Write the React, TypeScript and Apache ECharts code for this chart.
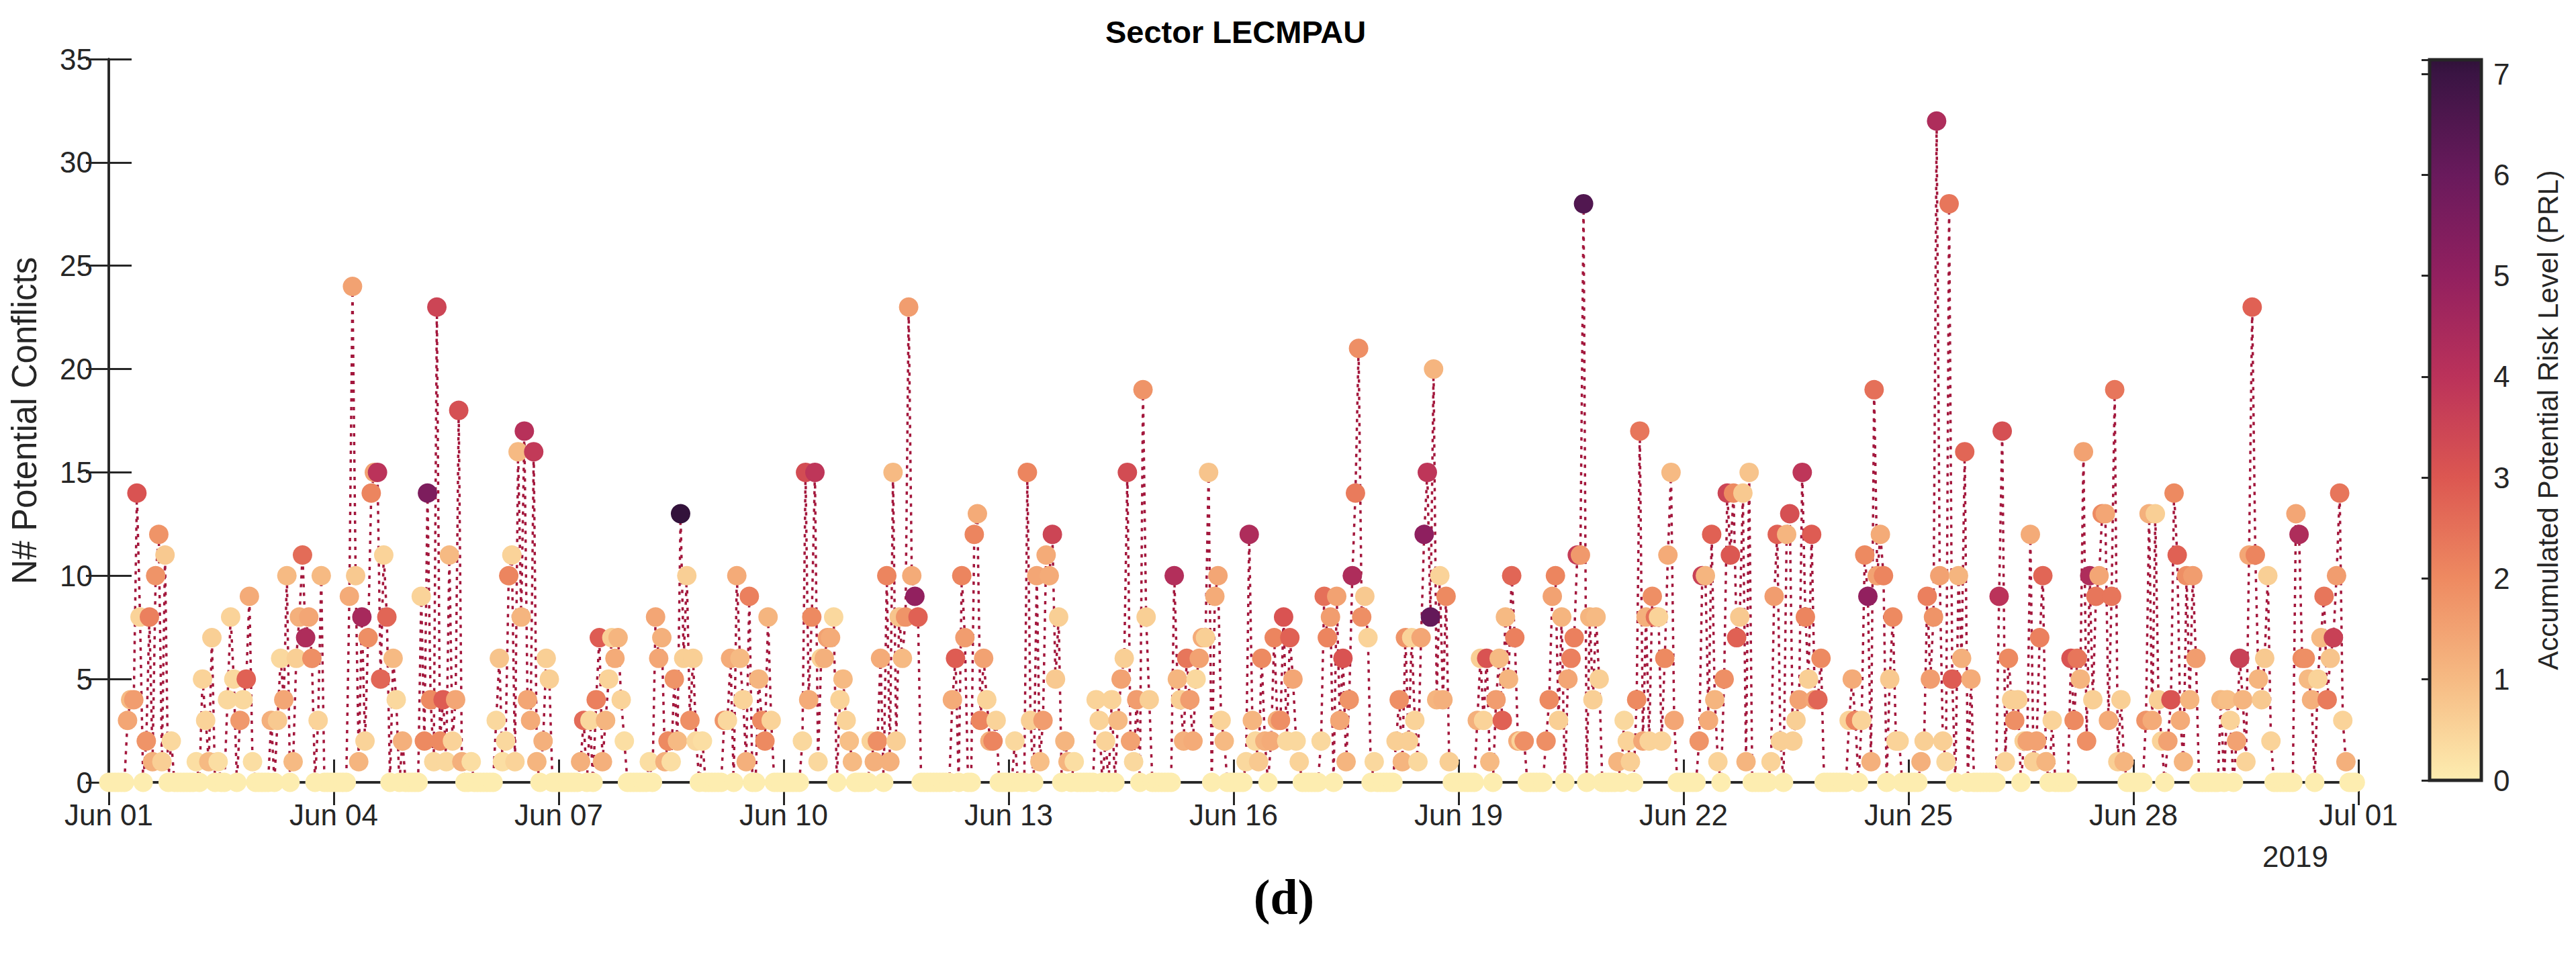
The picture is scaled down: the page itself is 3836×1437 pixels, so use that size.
import React, { useEffect, useRef } from "react";
import * as echarts from "echarts";

// ---------- DATA (hour since Jun 01 00:00, potential conflicts, accumulated PRL) ----------
const week1: number[][] = [
  [6,3,1.4],[7,4,1.0],[8,4,1.6],[9,14,3.1],[10,8,0.5],[12,2,1.8],[13,8,2.2],[14,1,1.2],[15,10,1.8],[16,12,1.8],[17,1,0.6],[18,11,0.7],[20,2,0.4],
  [28,1,0.3],[30,5,0.5],[31,3,0.5],[32,1,1.0],[33,7,0.6],[35,1,0.3],[38,4,0.4],[39,8,0.5],[40,5,0.4],[42,3,1.7],[43,4,0.4],[44,5,2.8],[45,9,1.3],[46,1,0.3],
  [52,3,1.2],[54,3,0.7],[55,6,0.4],[56,4,1.4],[57,10,1.0],[59,1,1.0],[60,6,0.6],[61,8,1.2],[62,11,2.6],[63,7,4.3],[64,8,1.4],[65,6,1.9],[67,3,0.5],[68,10,1.0],
  [77,9,1.3],[78,24,1.5],[79,10,0.7],[80,1,1.1],[81,8,4.5],[82,2,0.5],[83,7,1.9],[84,14,2.1],[85,15,1.5],[86,15,4.0],[87,5,2.7],[88,11,0.5],[89,8,2.7],[91,6,1.0],[92,4,0.4],[94,2,1.2],
  [100,9,0.5],[101,2,2.0],[102,14,5.5],[103,4,2.0],[104,1,0.4],[105,23,3.5],[106,2,2.0],[107,4,2.9],[108,1,0.4],[109,11,1.0],[110,2,0.5],[111,4,1.4],[112,18,3.2],[113,1,1.2],[116,1,0.3],
  [124,3,0.4],[125,6,0.8],[126,1,0.3],[127,2,0.4],[128,10,2.1],[129,11,0.5],[130,1,0.5],[131,16,1.0],[132,8,1.1],[133,17,4.1],[134,4,1.4],[135,3,1.3],[136,16,3.8],[137,1,1.1],[139,2,1.2],[140,6,0.6],[141,5,0.6],
  [151,1,1.2],[152,3,2.6],[154,3,0.4],[156,4,2.2],[157,7,2.9],[158,1,1.2],[159,3,1.1],[160,5,0.5],[161,7,0.6],[162,6,1.3],[163,7,1.1],[164,4,0.5],[165,2,0.3],
];
const week2: number[][] = [
  [173,1,0.3],[175,8,1.4],[176,6,1.4],[177,7,1.2],[178,1,1.2],[179,2,2.0],[180,1,0.3],[181,5,1.8],[182,2,1.0],[183,13,7.1],[184,6,0.6],[185,10,0.6],[186,3,1.9],[187,6,0.6],[188,2,0.4],[190,2,0.3],
  [197,3,1.8],[198,3,0.4],[199,6,1.3],[201,10,1.3],[202,6,1.0],[203,4,0.5],[204,1,1.2],[205,9,2.2],[208,5,1.1],[209,3,2.0],[210,2,2.0],[211,8,1.1],[212,3,0.5],
  [222,2,0.4],[223,15,3.3],[224,4,1.3],[225,8,2.0],[226,15,3.9],[227,1,0.4],[228,6,0.5],[229,6,1.2],[230,7,1.5],[231,7,1.3],[232,8,0.4],[234,4,0.5],[235,5,1.0],[236,3,0.5],[237,2,0.9],[238,1,1.0],
  [244,2,0.5],[245,1,1.2],[246,2,1.9],[247,6,1.3],[249,10,2.1],[250,1,1.2],[251,15,1.0],[252,2,0.6],[253,8,0.8],[254,6,1.0],[255,8,1.8],[256,23,1.6],[257,10,1.3],[258,9,5.0],[259,8,2.8],
  [270,4,1.3],[271,6,2.9],[273,10,2.1],[274,7,1.6],[277,12,2.1],[278,13,1.3],[279,3,2.1],[280,6,1.5],[281,4,0.5],[282,2,1.2],[283,2,2.1],[284,3,0.5],[290,2,0.4],
  [294,15,2.1],[295,3,0.6],[297,10,1.4],[298,1,0.9],[299,3,1.6],[300,11,1.3],[301,10,1.3],[302,12,3.5],[303,5,0.7],[304,8,0.6],[306,2,1.1],[307,1,1.1],[309,1,0.3],
  [316,4,0.5],[317,3,0.5],[319,2,0.5],[321,4,0.5],[323,3,1.0],[324,5,1.5],[325,6,0.6],[326,15,3.3],[327,2,1.5],[328,1,0.4],[329,4,1.6],[331,19,1.8],[332,8,0.6],[333,4,0.6],
];
const week3: number[][] = [
  [341,10,4.2],[342,5,1.1],[343,4,0.6],[344,2,1.2],[345,6,2.4],[346,4,1.6],[347,2,1.3],[348,5,0.4],[349,6,1.5],[350,7,1.3],[351,7,0.6],[352,15,0.8],[354,9,1.3],[355,10,1.4],[356,3,0.5],[357,2,1.0],
  [364,1,0.4],[365,12,4.3],[366,3,1.1],[367,2,0.4],[368,1,0.7],[369,6,2.0],[370,2,1.2],[372,2,1.3],[373,7,2.1],[374,3,1.2],[375,3,1.9],[376,8,3.1],[377,2,0.4],[378,7,2.8],[379,5,1.4],[380,2,0.4],[381,1,0.5],
  [388,2,0.4],[389,9,2.5],[390,7,2.1],[391,8,1.6],[393,9,1.5],[394,3,1.4],[395,6,3.1],[396,1,1.1],[397,4,1.8],[398,10,4.3],[399,14,2.3],[400,21,1.9],[401,8,1.9],[402,9,0.7],[403,7,0.5],[405,1,0.4],
  [412,2,0.6],[413,4,1.9],[414,1,1.1],[415,7,1.8],[416,2,0.6],[417,7,0.5],[418,3,0.5],[419,1,0.4],[420,7,1.4],[421,12,5.1],[422,15,3.9],[423,8,6.1],[424,20,1.1],[425,4,1.1],[426,10,0.5],[427,4,1.2],[428,9,2.0],[429,1,0.6],
  [438,3,1.2],[439,6,0.6],[440,3,0.5],[441,6,3.1],[442,1,1.0],[444,4,1.6],[445,6,1.0],[446,3,2.8],[447,8,1.0],[448,5,1.1],[449,10,2.7],[450,7,2.2],[451,2,1.3],[452,2,0.5],[453,2,1.9],
  [460,2,1.9],[461,4,2.0],[462,9,1.5],[463,10,2.1],[464,3,0.6],[465,8,1.1],[467,5,1.4],[468,6,2.2],[469,7,2.2],[470,11,3.7],[471,11,1.7],[472,28,6.5],[474,8,1.1],[475,4,0.6],[476,8,1.0],[477,5,0.6],
  [483,1,1.1],[485,3,0.4],[486,2,0.5],[487,1,0.6],[489,4,2.0],[490,17,2.4],[491,2,1.4],[492,8,1.2],[493,2,0.5],[494,9,1.9],[495,8,2.5],[496,8,0.5],[497,2,0.5],[498,6,2.0],[499,11,1.3],[500,15,1.0],[501,3,1.4],
];
const week4: number[][] = [
  [509,2,1.8],[510,10,3.6],[511,10,1.1],[512,3,1.3],[513,12,2.8],[514,4,1.1],[515,1,0.5],[517,5,1.9],[518,14,3.5],[519,11,3.0],[520,14,2.0],[521,7,2.8],[522,8,0.7],[523,14,0.7],[524,1,1.1],[525,15,0.8],
  [532,1,0.5],[533,9,1.6],[534,12,2.8],[535,2,0.6],[537,12,1.1],[538,13,3.2],[539,2,0.6],[540,3,0.6],[541,4,1.5],[542,15,3.9],[543,8,2.1],[544,5,0.6],[545,12,2.9],[546,4,1.4],[547,4,2.7],[548,6,2.0],
  [557,3,0.5],[558,5,1.3],[559,3,2.1],[561,3,0.5],[562,11,2.0],[563,9,5.0],[564,1,1.2],[565,19,2.5],[566,10,1.5],[567,12,1.3],[568,10,2.1],[570,5,0.7],[571,8,2.0],[572,2,0.5],[573,2,0.5],
  [580,1,1.2],[581,2,0.6],[582,9,2.2],[583,5,1.6],[584,8,1.8],[585,32,4.3],[586,10,1.5],[587,2,0.6],[588,1,0.4],[589,28,2.4],[590,5,2.9],[592,10,1.1],[593,6,1.2],[594,16,2.7],[596,5,1.3],
  [605,9,4.0],[606,17,3.2],[607,1,0.5],[608,6,2.0],[609,4,0.6],[610,3,1.9],[611,4,0.6],[613,2,0.6],[614,2,1.5],[615,12,1.3],[616,1,0.6],[617,2,1.5],[618,7,2.2],[619,10,2.7],[620,1,1.1],[622,3,0.5],
  [628,6,3.1],[629,3,2.0],[630,6,2.4],[631,5,1.1],[632,16,1.5],[633,2,1.9],[634,10,4.3],[635,4,0.6],[636,9,2.4],[637,10,1.4],[638,13,2.0],[639,13,1.4],[640,3,1.3],[641,9,2.4],[642,19,2.4],[643,1,0.6],[644,4,0.6],[645,1,1.1],
  [652,3,1.8],[653,13,1.2],[654,3,1.3],[655,13,0.6],[656,4,0.6],[657,2,0.5],[659,2,1.5],[660,4,3.1],[661,14,2.0],[662,11,2.8],[663,3,1.3],[664,1,1.1],[665,10,1.9],[666,4,1.1],[667,10,1.6],[668,6,1.6],
];
const week5: number[][] = [
  [676,4,1.0],[678,4,0.9],[679,3,0.5],[681,2,1.5],[682,6,3.6],[683,4,1.1],[684,1,0.5],[685,11,1.4],[686,23,2.8],[687,11,2.1],[688,5,1.1],[689,4,0.7],[690,6,0.7],[691,10,0.6],[692,2,0.5],
  [700,13,1.4],[701,12,4.3],[702,6,2.0],[703,6,1.9],[704,5,1.0],[705,4,1.2],[707,5,0.5],[708,7,1.0],[709,9,2.4],[710,4,2.3],[711,6,0.8],[712,7,3.6],[713,10,1.6],[714,14,2.4],[715,3,0.5],[716,1,1.2],
];

const HOURS = 720;
const tickLabels = ["Jun 01", "Jun 04", "Jun 07", "Jun 10", "Jun 13", "Jun 16", "Jun 19", "Jun 22", "Jun 25", "Jun 28", "Jul 01"];
const yearLabel = "2019";
const titleText = "Sector LECMPAU";
const yName = "N# Potential Conflicts";
const cbName = "Accumulated Potential Risk Level (PRL)";
const panelLabel = "(d)";
const PRL_MAX = 7.14;
// colour of the PRL scale at 0,1,...,7 and at the top of the bar
const prlStops = ["#fdedb0", "#f6ba83", "#ee8a61", "#dc5751", "#bb325a", "#92205f", "#691a5c", "#3a1443"];
const prlTopColor = "#301239";

// ---------- helpers ----------
function hexToRgb(h: string) {
  const n = parseInt(h.slice(1), 16);
  return [(n >> 16) & 255, (n >> 8) & 255, n & 255];
}
function rgbToHex(c: number[]) {
  return "#" + c.map((v) => Math.round(v).toString(16).padStart(2, "0")).join("");
}
function colorAt(v: number) {
  const vals = prlStops.map((_, i) => i).concat([PRL_MAX]);
  const cols = prlStops.concat([prlTopColor]);
  if (v <= 0) return cols[0];
  for (let i = 0; i < vals.length - 1; i++) {
    if (v <= vals[i + 1]) {
      const t = (v - vals[i]) / (vals[i + 1] - vals[i]);
      const a = hexToRgb(cols[i]);
      const b = hexToRgb(cols[i + 1]);
      return rgbToHex(a.map((x, k) => x + (b[k] - x) * t));
    }
  }
  return cols[cols.length - 1];
}

const AXIS = "#262626";
const FONT = "'Liberation Sans', Arial, Helvetica, sans-serif";

export default function App() {
  const ref = useRef<HTMLDivElement>(null);

  useEffect(() => {
    document.body.style.margin = "0";
    if (!ref.current) return;
    const chart = echarts.init(ref.current, undefined, { renderer: "svg" });

    const counts = new Array(HOURS).fill(0);
    const prl = new Array(HOURS).fill(0);
    [week1, week2, week3, week4, week5].forEach((wk) =>
      wk.forEach(([h, c, p]) => {
        counts[h] = c;
        prl[h] = p;
      })
    );
    const lineData = counts.map((c, h) => [h, c]);
    const pointData = counts.map((c, h) => [h, c, prl[h]]);

    const nSamples = 36;
    const vmColors = Array.from({ length: nSamples }, (_, i) => colorAt((PRL_MAX * i) / (nSamples - 1)));
    const gradStops = prlStops
      .map((c, i) => ({ offset: 1 - i / PRL_MAX, color: c }))
      .concat([{ offset: 0, color: prlTopColor }]);

    const gridL = 162, gridT = 88, gridW = 3350, gridH = 1077;
    const cbL = 3618, cbT = 89, cbW = 77, cbH = 1073;

    const tickStyle = { show: true, inside: true, length: 34, lineStyle: { color: AXIS, width: 3 } };
    const lineStyleAxis = { show: true, lineStyle: { color: AXIS, width: 3.5 } };

    chart.setOption({
      animation: false,
      textStyle: { fontFamily: FONT },
      grid: [
        { left: gridL, top: gridT, width: gridW, height: gridH, containLabel: false },
        { left: cbL, top: cbT, width: cbW, height: cbH, containLabel: false },
      ],
      xAxis: [
        {
          type: "value", gridIndex: 0, min: 0, max: HOURS, interval: 72, position: "bottom",
          axisLine: lineStyleAxis, axisTick: tickStyle, splitLine: { show: false },
          axisLabel: {
            fontSize: 44, color: AXIS, fontFamily: FONT, margin: 26,
            formatter: (v: number) => tickLabels[Math.round(v / 72)] ?? "",
          },
        },
        {
          type: "value", gridIndex: 0, min: 0, max: HOURS, interval: 72, position: "top",
          axisLine: lineStyleAxis, axisTick: tickStyle, splitLine: { show: false },
          axisLabel: { show: false },
        },
        { type: "value", gridIndex: 1, min: 0, max: 1, show: false },
      ],
      yAxis: [
        {
          type: "value", gridIndex: 0, min: 0, max: 35, interval: 5, position: "left",
          axisLine: lineStyleAxis, axisTick: tickStyle, splitLine: { show: false },
          axisLabel: { fontSize: 44, color: AXIS, fontFamily: FONT, margin: 24 },
          name: yName, nameLocation: "middle", nameGap: 100, nameRotate: 90,
          nameTextStyle: { fontSize: 51, color: AXIS, fontFamily: FONT },
        },
        {
          type: "value", gridIndex: 0, min: 0, max: 35, interval: 5, position: "right",
          axisLine: lineStyleAxis, axisTick: tickStyle, splitLine: { show: false },
          axisLabel: { show: false },
        },
        {
          type: "value", gridIndex: 1, min: 0, max: PRL_MAX, interval: 1, position: "right", z: 10,
          axisLine: { show: false }, splitLine: { show: false },
          axisTick: { show: true, inside: true, length: 12, lineStyle: { color: AXIS, width: 3 } },
          axisLabel: {
            fontSize: 44, color: AXIS, fontFamily: FONT, margin: 18,
            formatter: (v: number) => (Math.abs(v - Math.round(v)) < 1e-6 ? String(Math.round(v)) : ""),
          },
          name: cbName, nameLocation: "middle", nameGap: 78, nameRotate: 90,
          nameTextStyle: { fontSize: 42, color: AXIS, fontFamily: FONT },
        },
      ],
      visualMap: {
        type: "continuous", show: false, min: 0, max: PRL_MAX, dimension: 2, seriesIndex: 1,
        inRange: { color: vmColors },
      },
      graphic: [
        {
          type: "rect", z: 1,
          shape: { x: cbL, y: cbT, width: cbW, height: cbH },
          style: {
            fill: new echarts.graphic.LinearGradient(0, 0, 0, 1, gradStops.sort((a, b) => a.offset - b.offset)),
            stroke: AXIS, lineWidth: 5,
          },
        },
        {
          type: "text", x: gridL + gridW / 2 + 3, y: 47,
          style: { text: titleText, font: `bold 47px ${FONT}`, fill: "#000", textAlign: "center", textVerticalAlign: "middle" },
        },
        {
          type: "text", x: 3418, y: 1275,
          style: { text: yearLabel, font: `44px ${FONT}`, fill: AXIS, textAlign: "center", textVerticalAlign: "middle" },
        },
        {
          type: "text", x: 1912, y: 1336,
          style: { text: panelLabel, font: `bold 74px 'Liberation Serif', 'Times New Roman', serif`, fill: "#000", textAlign: "center", textVerticalAlign: "middle" },
        },
      ],
      series: [
        {
          type: "line", xAxisIndex: 0, yAxisIndex: 0, data: lineData, showSymbol: false, symbol: "none",
          clip: false, z: 2, silent: true,
          lineStyle: { color: "#a3173c", width: 3.5, type: [5, 8], cap: "butt" },
        },
        {
          type: "scatter", xAxisIndex: 0, yAxisIndex: 0, data: pointData, symbol: "circle", symbolSize: 29,
          clip: false, z: 3, silent: true, itemStyle: { opacity: 1 },
        },
      ],
    });

    return () => chart.dispose();
  }, []);

  return <div ref={ref} style={{ width: 3836, height: 1437 }} />;
}
